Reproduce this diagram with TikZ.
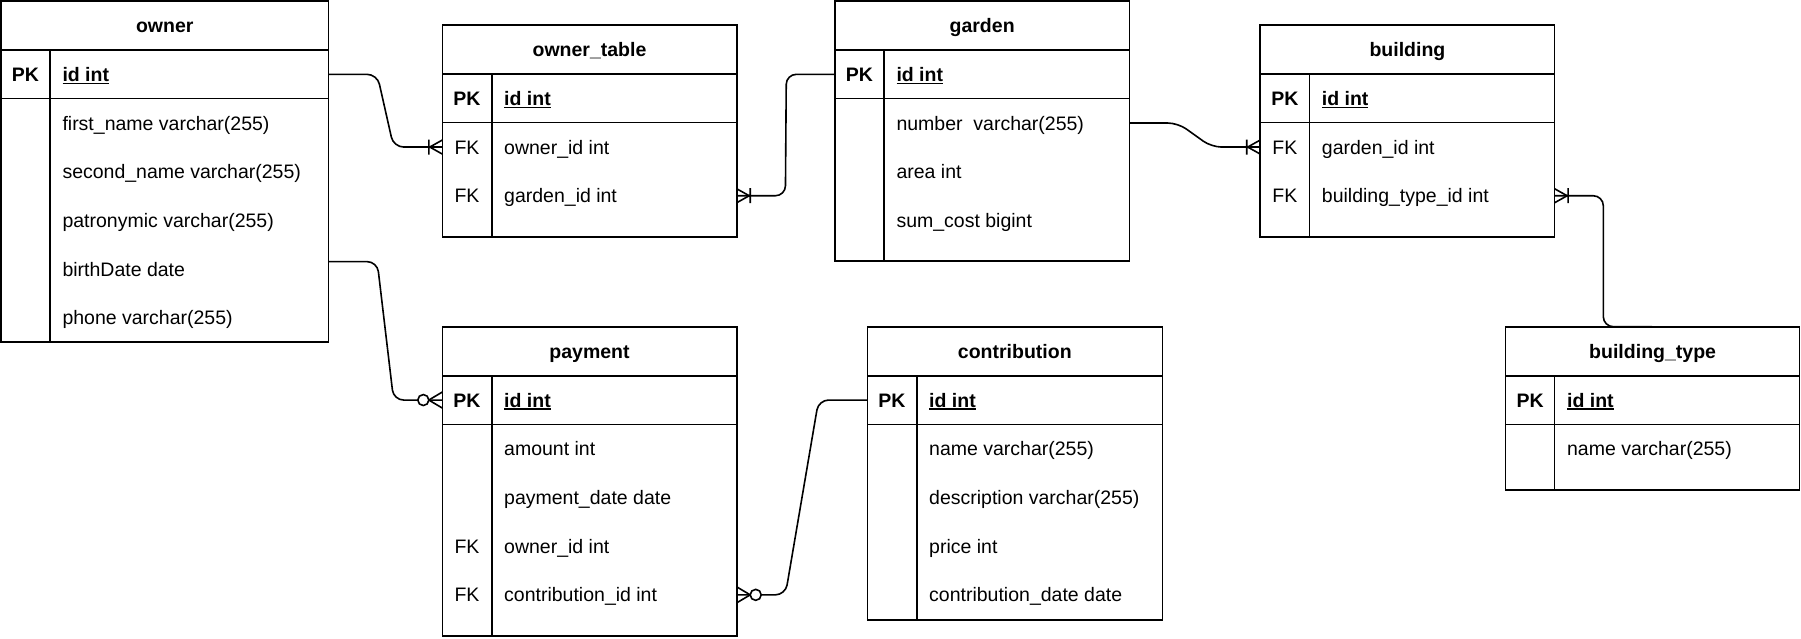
\documentclass[tikz,border=0pt]{standalone}
\usepackage{fontspec}
\setmainfont{Liberation Sans}
\usetikzlibrary{calc}
\newcommand\fs{\fontsize{19.5}{23}\selectfont}
\newcommand\ulid[1]{\setbox0\hbox{#1}\rlap{\vrule width\wd0 height -1.2pt depth 2.7pt}\box0}
\tikzset{
 tbox/.style={draw, line width=1.6pt, inner sep=0pt, outer sep=0pt, anchor=north west},
 tline/.style={line width=1.6pt},
 txt/.style={inner sep=0pt, outer sep=0pt, text height=13.96pt, text depth=0pt, font=\fs},
 hd/.style={txt, font=\fs\bfseries},
 pk/.style={txt, font=\fs\bfseries},
 fk/.style={txt},
 fd/.style={txt, anchor=west},
 idf/.style={fd, font=\fs\bfseries},
 rel/.style={draw, line width=1.6pt, rounded corners=10pt},
 mk/.style={line width=1.6pt},
 pics/onemany/.style={code={\draw[mk] (-12.5,0) -- (0,-7) (-12.5,0) -- (0,7) (-13.5,-7.5) -- (-13.5,7.5);}},
 pics/zeromany/.style={code={\draw[mk] (-13.5,0) -- (0,-8) (-13.5,0) -- (0,8); \draw[mk,fill=white] (-19,0) circle (5.5);}},
}
\begin{document}
\begin{tikzpicture}[x=1pt,y=-1pt]
\useasboundingbox (0,0) rectangle (1801,639);

% ---------- owner ----------
\node[tbox, minimum width=327.5pt, minimum height=341.2pt] (owner) at (1,1) {};
\draw[tline] (1,50) -- (328.5,50) (1,98.7) -- (328.5,98.7) (50,50) -- (50,342.2);
\node[hd] (owner-h) at (164.75,25.5) {owner};
\node[pk] (owner-pkk) at (25.5,74.35) {PK};
\node[idf] (owner-pk) at (62.5,74.35) {\ulid{id int}};
\node[fd] (owner-r1) at (62.5,123.05) {first\_name varchar(255)};
\node[fd] (owner-r2) at (62.5,171.75) {second\_name varchar(255)};
\node[fd] (owner-r3) at (62.5,220.45) {patronymic varchar(255)};
\node[fd] (owner-r4) at (62.5,269.15) {birthDate date};
\node[fd] (owner-r5) at (62.5,317.85) {phone varchar(255)};

% ---------- owner_table ----------
\node[tbox, minimum width=294.4pt, minimum height=211.7pt] (ot) at (442.3,25) {};
\draw[tline] (442.3,74) -- (736.7,74) (442.3,122.7) -- (736.7,122.7) (491.7,74) -- (491.7,236.7);
\node[hd] (ot-h) at (589.5,49.5) {owner\_table};
\node[pk] (ot-pkk) at (467,98.35) {PK};
\node[idf] (ot-pk) at (504.2,98.35) {\ulid{id int}};
\node[fk] (ot-k1) at (467,147.05) {FK};
\node[fd] (ot-r1) at (504.2,147.05) {owner\_id int};
\node[fk] (ot-k2) at (467,195.75) {FK};
\node[fd] (ot-r2) at (504.2,195.75) {garden\_id int};

% ---------- garden ----------
\node[tbox, minimum width=294.3pt, minimum height=260pt] (gd) at (835,1) {};
\draw[tline] (835,50) -- (1129.3,50) (835,98.7) -- (1129.3,98.7) (884,50) -- (884,261);
\node[hd] (gd-h) at (982.15,25.5) {garden};
\node[pk] (gd-pkk) at (859.5,74.35) {PK};
\node[idf] (gd-pk) at (896.5,74.35) {\ulid{id int}};
\node[fd] (gd-r1) at (896.5,123.05) {number\ \ varchar(255)};
\node[fd] (gd-r2) at (896.5,171.75) {area int};
\node[fd] (gd-r3) at (896.5,220.45) {sum\_cost bigint};

% ---------- building ----------
\node[tbox, minimum width=294.4pt, minimum height=211.7pt] (bd) at (1260.2,25) {};
\draw[tline] (1260.2,74) -- (1554.6,74) (1260.2,122.7) -- (1554.6,122.7) (1309.4,74) -- (1309.4,236.7);
\node[hd] (bd-h) at (1407.4,49.5) {building};
\node[pk] (bd-pkk) at (1284.8,98.35) {PK};
\node[idf] (bd-pk) at (1321.9,98.35) {\ulid{id int}};
\node[fk] (bd-k1) at (1284.8,147.05) {FK};
\node[fd] (bd-r1) at (1321.9,147.05) {garden\_id int};
\node[fk] (bd-k2) at (1284.8,195.75) {FK};
\node[fd] (bd-r2) at (1321.9,195.75) {building\_type\_id int};

% ---------- building_type ----------
\node[tbox, minimum width=294pt, minimum height=163.3pt] (bt) at (1505.6,326.7) {};
\draw[tline] (1505.6,375.7) -- (1799.6,375.7) (1505.6,424.4) -- (1799.6,424.4) (1554.6,375.7) -- (1554.6,490);
\node[hd] (bt-h) at (1652.6,351.2) {building\_type};
\node[pk] (bt-pkk) at (1530.1,400.05) {PK};
\node[idf] (bt-pk) at (1567.1,400.05) {\ulid{id int}};
\node[fd] (bt-r1) at (1567.1,448.75) {name varchar(255)};

% ---------- payment ----------
\node[tbox, minimum width=294.4pt, minimum height=309.3pt] (pay) at (442.3,326.7) {};
\draw[tline] (442.3,375.7) -- (736.7,375.7) (442.3,424.4) -- (736.7,424.4) (491.7,375.7) -- (491.7,636);
\node[hd] (pay-h) at (589.5,351.2) {payment};
\node[pk] (pay-pkk) at (467,400.05) {PK};
\node[idf] (pay-pk) at (504.2,400.05) {\ulid{id int}};
\node[fd] (pay-r1) at (504.2,448.75) {amount int};
\node[fd] (pay-r2) at (504.2,497.45) {payment\_date date};
\node[fk] (pay-k3) at (467,546.15) {FK};
\node[fd] (pay-r3) at (504.2,546.15) {owner\_id int};
\node[fk] (pay-k4) at (467,594.85) {FK};
\node[fd] (pay-r4) at (504.2,594.85) {contribution\_id int};

% ---------- contribution ----------
\node[tbox, minimum width=295pt, minimum height=293.3pt] (con) at (867.3,326.7) {};
\draw[tline] (867.3,375.7) -- (1162.3,375.7) (867.3,424.4) -- (1162.3,424.4) (916.7,375.7) -- (916.7,620);
\node[hd] (con-h) at (1014.8,351.2) {contribution};
\node[pk] (con-pkk) at (892,400.05) {PK};
\node[idf] (con-pk) at (929.2,400.05) {\ulid{id int}};
\node[fd] (con-r1) at (929.2,448.75) {name varchar(255)};
\node[fd] (con-r2) at (929.2,497.45) {description varchar(255)};
\node[fd] (con-r3) at (929.2,546.15) {price int};
\node[fd] (con-r4) at (929.2,594.85) {contribution\_date date};

% ---------- relations ----------
\draw[rel] (owner.east |- owner-pk.west) -- ++(48.7,0) -- ($(ot.west |- ot-r1.west)+(-48.7,0)$) -- (ot.west |- ot-r1.west);
\draw[rel] (gd.west |- gd-pk.west) -- ++(-48.7,0) -- ($(ot.east |- ot-r2.west)+(48.7,0)$) -- (ot.east |- ot-r2.west);
\draw[rel] (gd.east |- gd-r1.west) -- ++(48.7,0) -- ($(bd.west |- bd-r1.west)+(-48.7,0)$) -- (bd.west |- bd-r1.west);
\draw[rel] (bd.east |- bd-r2.west) -- ++(48.7,0) coordinate (e4) -- (e4 |- bt.north) -- ++(48.7,0);
\draw[rel] ($(owner.east |- owner-r4.west)+(0,-7.5)$) -- ++(48.7,0) -- ($(pay.west |- pay-pk.west)+(-48.7,0)$) -- (pay.west |- pay-pk.west);
\draw[rel] (con.west |- con-pk.west) -- ++(-48.7,0) -- ($(pay.east |- pay-r4.west)+(48.7,0)$) -- (pay.east |- pay-r4.west);

\pic at (ot.west |- ot-r1.west) {onemany};
\pic[xscale=-1] at (ot.east |- ot-r2.west) {onemany};
\pic at (bd.west |- bd-r1.west) {onemany};
\pic[xscale=-1] at (bd.east |- bd-r2.west) {onemany};
\pic at (pay.west |- pay-pk.west) {zeromany};
\pic[xscale=-1] at (pay.east |- pay-r4.west) {zeromany};
\end{tikzpicture}
\end{document}
